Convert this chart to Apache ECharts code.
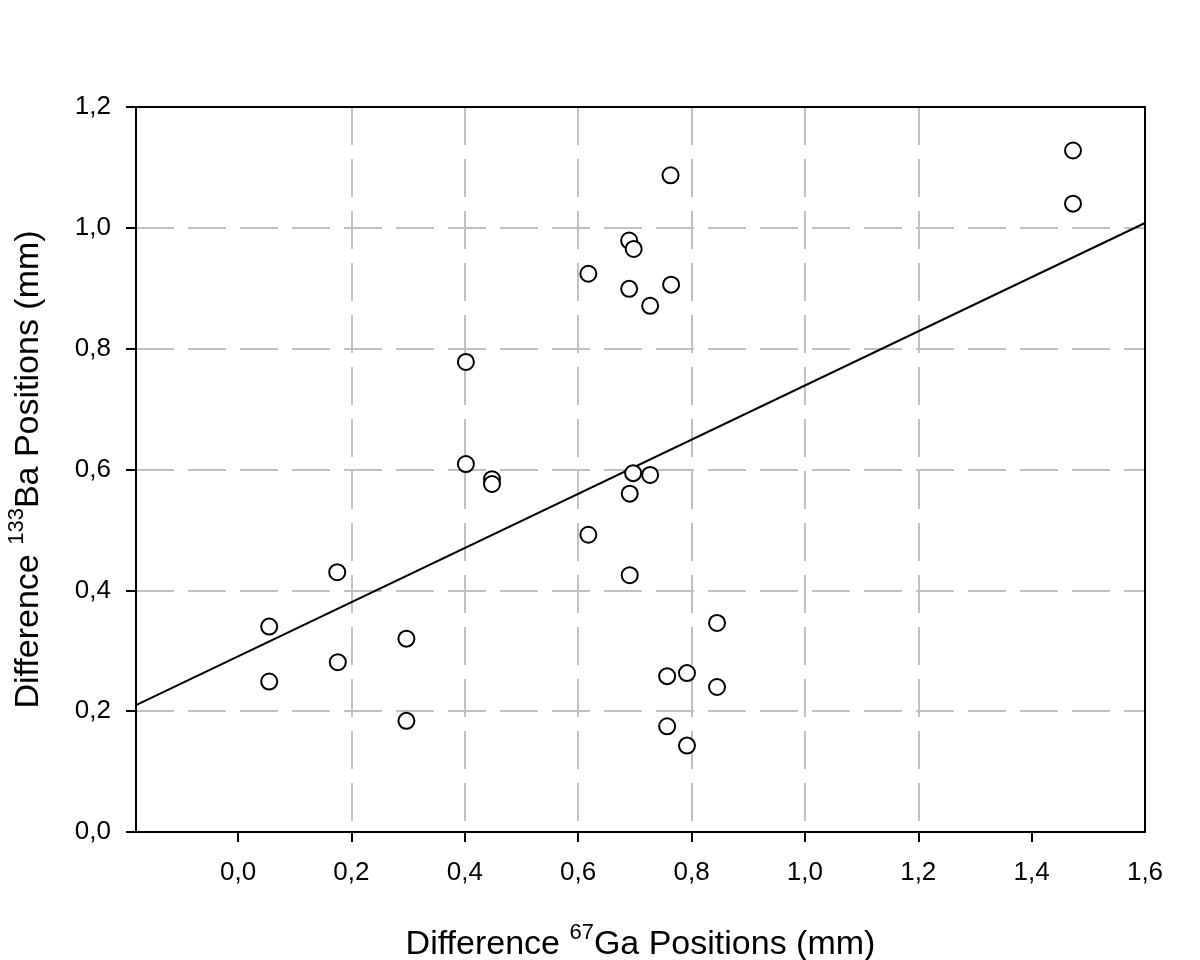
<!DOCTYPE html>
<html>
<head>
<meta charset="utf-8">
<script src="https://cdn.jsdelivr.net/npm/echarts@6/dist/echarts.min.js"></script>
<style>
  html, body { margin: 0; padding: 0; background: #fff; }
  #chart { width: 1200px; height: 960px; }
</style>
</head>
<body>
<div id="chart"></div>
<script>
// values (mm)
const gaDiff = [
  0.055, 0.055, 0.175, 0.176, 0.297, 0.297, 0.402, 0.402, 0.448, 0.448,
  0.618, 0.618, 0.690, 0.698, 0.690, 0.727, 0.763, 0.764, 0.697, 0.727,
  0.691, 0.691, 0.757, 0.792, 0.845, 0.845, 0.757, 0.792, 1.473, 1.473
];
const baDiff = [
  0.340, 0.249, 0.430, 0.281, 0.320, 0.184, 0.778, 0.609, 0.584, 0.576,
  0.924, 0.492, 0.979, 0.965, 0.899, 0.871, 1.087, 0.906, 0.594, 0.591,
  0.560, 0.425, 0.258, 0.263, 0.346, 0.240, 0.175, 0.143, 1.128, 1.040
];
// regression line end points, as drawn at the plot edges
const fitX = [-0.18, 1.6];
const fitY = [0.21, 1.008];
const xTicks = [0, 0.2, 0.4, 0.6, 0.8, 1.0, 1.2, 1.4];
const xLabels = [0, 0.2, 0.4, 0.6, 0.8, 1.0, 1.2, 1.4, 1.6];

const font = 'Liberation Sans, Arial, sans-serif';
const fmt = v => v.toFixed(1).replace('.', ',');
const gridLine = {
  show: true, showMinLine: false, showMaxLine: false,
  lineStyle: { color: '#c0c0c0', width: 2, type: [38, 14] }
};
const titleRich = {
  a: { fontSize: 34, fontFamily: font, color: '#000', lineHeight: 40, verticalAlign: 'bottom' },
  s: { fontSize: 22, fontFamily: font, color: '#000', lineHeight: 40, verticalAlign: 'top' }
};
const frame = {
  type: 'value', show: true,
  axisLine: { show: true, onZero: false, lineStyle: { color: '#000', width: 2 } },
  axisTick: { show: false }, axisLabel: { show: false }, splitLine: { show: false }
};

const chart = echarts.init(document.getElementById('chart'));
chart.setOption({
  animation: false,
  backgroundColor: '#fff',
  grid: {
    left: 136, right: 55, top: 107, bottom: 128,
    containLabel: false, outerBoundsMode: 'none'
  },
  xAxis: [
    {
      type: 'value',
      min: -0.18, max: 1.6,
      name: '{a|Difference }{s|67}{a|Ga Positions (mm)}',
      nameLocation: 'middle',
      nameGap: 90,
      nameTextStyle: { rich: titleRich },
      axisLine: { onZero: false, lineStyle: { color: '#000', width: 2 } },
      axisTick: { inside: false, length: 10, lineStyle: { color: '#000', width: 2 }, customValues: xTicks },
      axisLabel: { customValues: xLabels, formatter: fmt, fontSize: 26, fontFamily: font, color: '#000', margin: 28 },
      splitLine: gridLine
    },
    Object.assign({ position: 'top', min: -0.18, max: 1.6 }, frame)
  ],
  yAxis: [
    {
      type: 'value',
      min: 0, max: 1.2, interval: 0.2,
      name: '{a|Difference }{s|133}{a|Ba Positions (mm)}',
      nameLocation: 'middle',
      nameGap: 90,
      nameTextStyle: { rich: titleRich },
      axisLine: { onZero: false, lineStyle: { color: '#000', width: 2 } },
      axisTick: { inside: false, length: 10, lineStyle: { color: '#000', width: 2 } },
      axisLabel: { formatter: fmt, fontSize: 26, fontFamily: font, color: '#000', margin: 25 },
      splitLine: gridLine
    },
    Object.assign({ position: 'right', min: 0, max: 1.2 }, frame)
  ],
  series: [
    {
      type: 'line',
      data: fitX.map((x, i) => [x, fitY[i]]),
      symbol: 'none',
      lineStyle: { color: '#000', width: 2 },
      z: 2
    },
    {
      type: 'scatter',
      data: gaDiff.map((x, i) => [x, baDiff[i]]),
      symbol: 'circle',
      symbolSize: 16,
      itemStyle: { color: '#fff', borderColor: '#000', borderWidth: 2, opacity: 1 },
      z: 3
    }
  ]
});
</script>
</body>
</html>
